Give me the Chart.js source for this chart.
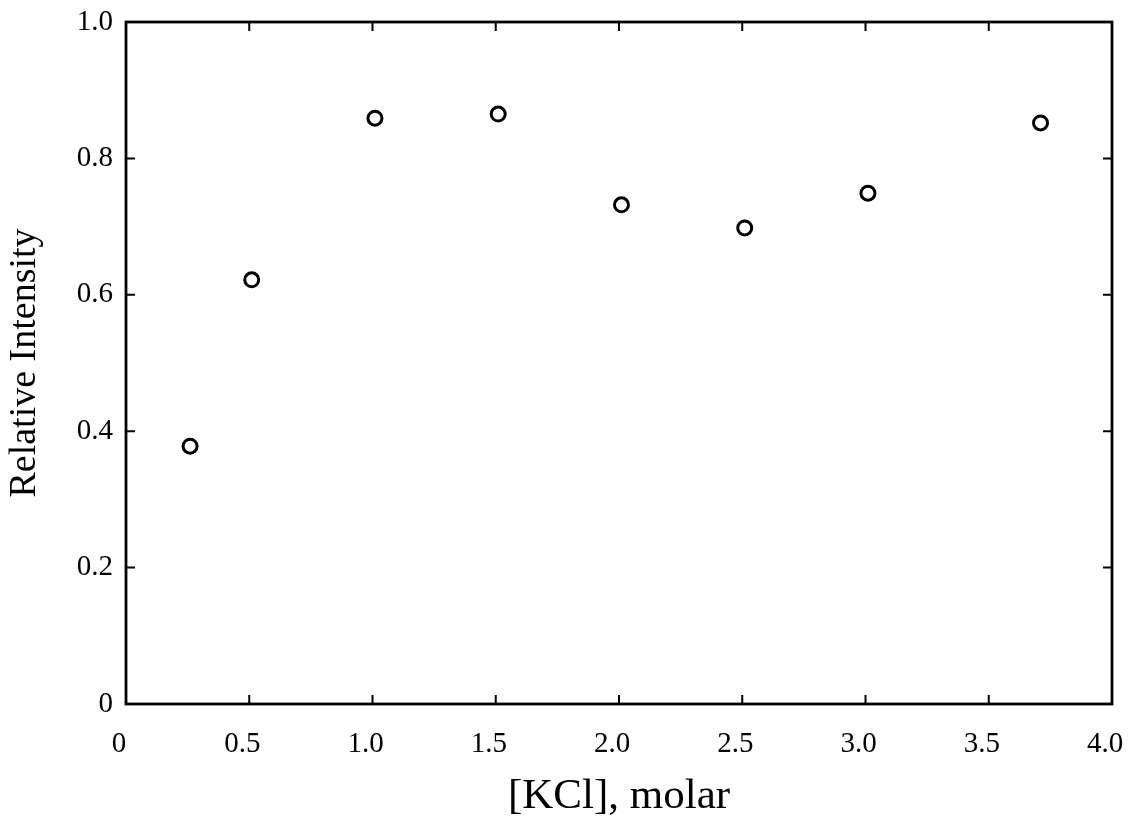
<!DOCTYPE html>
<html>
<head>
<meta charset="utf-8">
<script src="https://cdn.jsdelivr.net/npm/chart.js@4"></script>
<style>
  html, body { margin: 0; padding: 0; background: #fff; overflow: hidden; }
  #wrap { position: relative; width: 1135px; height: 818px; }
  canvas { display: block; }
</style>
</head>
<body>
<div id="wrap"><canvas id="kclChart"></canvas></div>
<script>
// KCl concentration (molar) against relative intensity
const kcl = [0.26, 0.51, 1.01, 1.51, 2.01, 2.51, 3.01, 3.71];
const intensity = [0.378, 0.622, 0.859, 0.865, 0.732, 0.698, 0.749, 0.852];
const xTicks = [0, 0.5, 1.0, 1.5, 2.0, 2.5, 3.0, 3.5, 4.0];
const yTicks = [0, 0.2, 0.4, 0.6, 0.8, 1.0];

const serif = "'Liberation Serif', 'Times New Roman', serif";

// frame around the plot plus short inward ticks on all four sides
const frameTicks = {
  id: 'frameTicks',
  afterDraw(chart) {
    const { ctx, chartArea: a, scales: { x, y } } = chart;
    const len = 9;
    ctx.save();
    ctx.strokeStyle = '#000';
    ctx.lineWidth = 2.8;
    ctx.strokeRect(a.left, a.top, a.right - a.left, a.bottom - a.top);
    ctx.lineWidth = 2;
    ctx.beginPath();
    xTicks.forEach(v => {
      const px = x.getPixelForValue(v);
      ctx.moveTo(px, a.bottom); ctx.lineTo(px, a.bottom - len);
      ctx.moveTo(px, a.top); ctx.lineTo(px, a.top + len);
    });
    yTicks.forEach(v => {
      const py = y.getPixelForValue(v);
      ctx.moveTo(a.left, py); ctx.lineTo(a.left + len, py);
      ctx.moveTo(a.right, py); ctx.lineTo(a.right - len, py);
    });
    ctx.stroke();
    ctx.restore();
  }
};

// fixed axis box sizes, no extra room for the end labels
const fixBox = size => s => {
  if (s.isHorizontal()) s.height = size; else s.width = size;
  s.paddingTop = s.paddingBottom = s.paddingLeft = s.paddingRight = 0;
};

new Chart(document.getElementById('kclChart'), {
  type: 'scatter',
  data: {
    datasets: [{
      data: kcl.map((v, i) => ({ x: v, y: intensity[i] })),
      pointRadius: 7,
      pointHoverRadius: 7,
      pointBorderWidth: 3,
      pointBorderColor: '#000',
      pointBackgroundColor: '#fff'
    }]
  },
  options: {
    responsive: true,
    maintainAspectRatio: false,
    animation: false,
    layout: { padding: { top: 22, right: 23, left: 0, bottom: 0 } },
    plugins: {
      legend: { display: false },
      tooltip: { enabled: false }
    },
    scales: {
      x: {
        type: 'linear',
        min: 0,
        max: 4,
        afterBuildTicks: s => { s.ticks = xTicks.map(v => ({ value: v })); },
        afterFit: fixBox(114),
        grid: { display: false, drawTicks: false },
        border: { display: false },
        ticks: {
          color: '#000',
          padding: 23,
          labelOffset: -7,
          maxRotation: 0,
          font: { family: serif, size: 29 },
          callback: v => v === 0 ? '0' : v.toFixed(1)
        },
        title: {
          display: true,
          text: '[KCl], molar',
          color: '#000',
          font: { family: serif, size: 43, lineHeight: 1 },
          padding: { top: 0, bottom: 0 }
        }
      },
      y: {
        type: 'linear',
        min: 0,
        max: 1,
        afterBuildTicks: s => { s.ticks = yTicks.map(v => ({ value: v })); },
        afterFit: fixBox(126),
        grid: { display: false, drawTicks: false },
        border: { display: false },
        ticks: {
          color: '#000',
          padding: 13,
          font: { family: serif, size: 29 },
          callback: v => v === 0 ? '0' : v.toFixed(1)
        },
        title: {
          display: true,
          text: 'Relative Intensity',
          color: '#000',
          font: { family: serif, size: 38, lineHeight: 1 },
          padding: { top: 6, bottom: 0 }
        }
      }
    }
  },
  plugins: [frameTicks]
});
</script>
</body>
</html>
